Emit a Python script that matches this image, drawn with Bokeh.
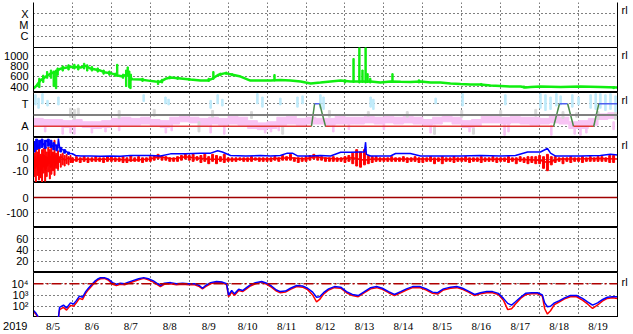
from bokeh.plotting import figure
from bokeh.layouts import column
from bokeh.models import Range1d, FixedTicker, Grid, LinearAxis, LogAxis, Span
from bokeh.embed import file_html
from bokeh.resources import INLINE

FONT = "Arial"
FS = "11px"
NAN = float("nan")

# ---------------- data ----------------
day_labels = ["8/5", "8/6", "8/7", "8/8", "8/9", "8/10", "8/11", "8/12",
              "8/13", "8/14", "8/15", "8/16", "8/17", "8/18", "8/19"]
day_mid = [0.5, 1.5, 2.5, 3.5, 4.5, 5.5, 6.5, 7.5, 8.5, 9.5, 10.5, 11.5, 12.5, 13.5, 14.5]
day_edges = [1, 2, 3, 4, 5, 6, 7, 8, 9, 10, 11, 12, 13, 14]
year_label = "2019"
rows_top = {3: "X", 2: "M", 1: "C"}
rows_state = {3: "T", 1: "A"}
side_mark = "rl"

# panel 2 (green), time in days since 8/5 00:00
green_t = [0.00, 0.08, 0.18, 0.26, 0.33, 0.44, 0.57, 0.69, 0.82, 1.00, 1.21, 1.34, 1.46, 1.59, 1.72,
           1.85, 1.98, 2.16, 2.29, 2.41, 2.54, 2.75, 2.95, 3.13, 3.26, 3.39, 3.52, 3.78, 4.03, 4.29,
           4.47, 4.60, 4.75, 4.93, 5.11, 5.32, 5.57, 5.83, 6.09, 6.34, 6.60, 6.86, 6.99, 7.12, 7.37,
           7.63, 7.89, 8.14, 8.40, 8.66, 8.91, 9.17, 9.43, 9.68, 9.94, 10.20, 10.45, 10.71, 10.97,
           11.23, 11.48, 11.74, 12.00, 12.25, 12.51, 12.64, 12.77, 13.02, 13.54, 14.05, 14.56, 15.00]
green_v = [360, 420, 520, 560, 600, 650, 690, 745, 765, 785, 770, 800, 750, 730, 710,
           670, 660, 615, 595, 640, 540, 535, 515, 497, 495, 550, 575, 555, 535, 515,
           515, 555, 630, 660, 630, 594, 516, 516, 516, 526, 516, 497, 477, 458, 477,
           497, 516, 497, 497, 497, 477, 497, 491, 487, 497, 477, 477, 458, 448,
           439, 439, 419, 410, 400, 400, 381, 390, 400, 390, 400, 390, 381]
green_noise_t = [0.15, 0.25, 0.35, 0.45, 0.52, 0.58, 0.62, 0.75, 0.90, 1.05, 1.15, 1.30, 1.38, 1.50,
                 1.65, 1.80, 1.95, 2.10, 2.15, 2.30, 2.38, 2.42, 2.46, 2.49, 2.50, 2.80, 3.20, 3.30,
                 3.50, 3.70, 4.00, 4.50, 4.62, 4.80, 4.95, 5.10, 6.19, 8.00, 8.22, 8.37, 8.45,
                 8.53, 8.58, 8.65, 9.22, 9.90, 11.50, 12.60, 14.90]
green_noise_lo = [380, 480, 560, 560, 400, 360, 620, 700, 720, 740, 720, 740, 700, 700,
                  680, 640, 620, 600, 600, 560, 400, 600, 380, 360, 520, 500, 440, 470,
                  550, 540, 520, 500, 540, 610, 640, 610, 510, 470, 480, 470, 480,
                  470, 480, 470, 490, 470, 420, 370, 360]
green_noise_hi = [560, 620, 690, 720, 700, 720, 760, 800, 820, 830, 820, 850, 820, 790,
                  760, 720, 700, 660, 830, 640, 720, 780, 700, 560, 640, 560, 520, 540,
                  600, 580, 560, 560, 690, 660, 680, 650, 632, 530, 942, 1174, 720,
                  1174, 650, 560, 650, 530, 460, 410, 400]

# panel 3 (T / A states)
state_t = [0, 7.14, 7.22, 7.35, 7.50, 13.36, 13.51, 13.72, 13.87, 14.39, 14.52, 15]
state_v = [1, 1, 3, 3, 1, 1, 3, 3, 1, 1, 3, 3]
gray_level = 2
pink_t = [0.125, 0.375, 0.625, 0.875, 1.125, 1.375, 1.625, 1.875, 2.125, 2.375, 2.625, 2.875,
          3.125, 3.375, 3.625, 3.875, 4.125, 4.375, 4.625, 4.875, 5.125, 5.375, 5.625, 5.875,
          6.125, 6.375, 6.625, 6.875, 7.125, 7.375, 7.625, 7.875, 8.125, 8.375, 8.625, 8.875,
          9.125, 9.375, 9.625, 9.875, 10.125, 10.375, 10.625, 10.875, 11.125, 11.375, 11.625,
          11.875, 12.125, 12.375, 12.625, 12.875, 13.125, 13.375, 13.625, 13.875, 14.125,
          14.375, 14.625, 14.875]
pink_lo = [1.1, 1.0, 1.0, 0.9, 1.0, 0.9, 0.8, 0.9, 1.1, 1.1, 1.1, 1.2,
           1.0, 0.9, 1.2, 1.4, 1.3, 1.1, 1.2, 1.1, 1.2, 1.1, 0.8, 0.7,
           0.8, 1.1, 1.2, 1.1, 1.2, 1.2, 1.1, 1.2, 1.2, 1.2, 1.3, 1.2,
           1.3, 1.2, 1.3, 1.2, 1.1, 1.2, 1.4, 1.2, 0.9, 1.0, 1.3,
           1.3, 1.2, 1.3, 1.2, 1.1, 1.2, 1.3, 1.2, 0.8, 0.8,
           1.1, 1.6, 1.7]
pink_hi = [1.7, 1.6, 1.6, 1.5, 1.6, 1.4, 1.4, 1.5, 1.7, 1.8, 1.7, 1.8,
           1.6, 1.5, 1.8, 1.9, 1.8, 1.7, 1.8, 1.7, 1.9, 1.8, 1.5, 1.3,
           1.4, 1.8, 1.9, 1.7, 1.8, 1.7, 1.7, 1.9, 1.8, 1.8, 1.9, 1.8,
           1.9, 1.8, 1.9, 1.8, 1.6, 1.8, 2.0, 1.8, 1.5, 1.6, 1.9,
           1.9, 1.8, 1.9, 1.8, 1.8, 1.7, 1.9, 1.8, 1.4, 1.5,
           1.7, 2.1, 2.2]
pink_streak_t = [0.30, 0.75, 0.95, 1.05, 1.50, 1.85, 2.20, 3.40, 3.55, 4.55, 4.90, 5.95, 6.10, 6.30,
                 7.70, 8.10, 9.00, 10.20, 10.30, 11.20, 11.30, 12.10, 12.20, 13.30, 13.90, 14.05,
                 14.20, 14.90]
pink_streak_lo = [0.5, 0.3, 0.4, 0.3, 0.4, 0.5, 0.6, 0.4, 0.6, 0.4, 0.3, 0.4, 0.5, 0.6,
                  0.5, 0.7, 0.7, 0.4, 0.3, 0.5, 0.4, 0.2, 0.5, 0.2, 0.3, 0.2, 0.4, 0.7]
pink_streak_hi = [1.4, 1.2, 1.3, 1.1, 1.2, 1.3, 1.2, 1.2, 1.3, 1.2, 1.1, 1.0, 1.1, 1.2,
                  1.2, 1.3, 1.3, 1.2, 1.1, 1.0, 1.1, 1.2, 1.3, 1.1, 1.0, 0.9, 1.2, 1.4]
gray_streak_t = [0.95, 1.05, 1.15, 2.20, 3.10, 4.25, 4.60, 5.60, 6.40, 7.60, 8.60, 9.60, 10.30,
                 11.00, 11.30, 12.00, 12.90, 13.60, 13.95, 14.50, 14.95]
gray_streak_lo = [1.8, 1.6, 2.0, 1.7, 1.9, 0.5, 1.8, 1.7, 0.3, 1.8, 1.9, 1.8, 0.3,
                  1.8, 0.3, 1.9, 1.9, 1.7, 1.8, 1.6, 1.6]
gray_streak_hi = [2.6, 2.5, 2.6, 2.4, 2.5, 1.4, 2.4, 2.3, 1.0, 2.4, 2.3, 2.3, 0.9,
                  2.4, 0.8, 2.4, 2.5, 2.3, 2.2, 2.3, 2.2]
cyan_t = [0.05, 0.13, 0.23, 0.36, 0.64, 2.83, 3.39, 3.47, 4.55, 4.73, 4.85, 5.75, 5.88, 6.34,
          6.78, 6.91, 7.37, 7.45, 8.66, 8.73, 10.33, 11.02, 12.12, 13.02, 13.15, 13.28, 13.43,
          13.54, 13.84, 14.00, 14.31, 14.44, 14.56, 14.69, 14.82, 14.95]
cyan_lo = [2.9, 2.6, 3.0, 2.8, 2.9, 3.2, 3.0, 2.9, 2.6, 3.0, 2.8, 3.0, 2.7, 2.9,
           2.7, 3.0, 2.6, 2.5, 2.7, 2.5, 3.0, 2.8, 2.9, 2.6, 2.4, 2.5, 2.8,
           2.9, 2.7, 2.9, 2.6, 2.5, 2.6, 2.4, 2.5, 2.3]
cyan_hi = [3.8, 3.5, 3.9, 3.3, 3.6, 3.8, 3.6, 3.4, 3.3, 3.8, 3.4, 3.9, 3.6, 3.5,
           3.6, 3.7, 3.8, 3.6, 3.6, 3.4, 3.5, 3.9, 3.8, 3.9, 3.8, 3.6, 3.9,
           3.7, 3.8, 3.6, 3.8, 3.9, 3.9, 3.8, 3.9, 3.7]

# panel 4 (red / blue)
blue4_t = [0.00, 0.05, 0.13, 0.18, 0.26, 0.33, 0.41, 0.49, 0.57, 0.62, 0.64, 0.67, 0.74, 0.82,
           0.90, 1.00, 1.08, 1.21, 1.46, 1.72, 1.98, 2.23, 2.49, 3.01, 3.26, 3.52, 3.90, 4.29,
           4.55, 4.73, 4.85, 5.06, 5.45, 5.83, 6.09, 6.34, 6.52, 6.65, 6.78, 7.12, 7.37, 7.63,
           7.89, 8.14, 8.40, 8.50, 8.53, 8.55, 8.66, 9.17, 9.30, 9.68, 9.94, 10.45, 10.97,
           11.48, 12.00, 12.38, 12.69, 13.02, 13.20, 13.28, 13.41, 14.05, 14.56, 14.82, 15.00]
blue4_v = [8, 14, 10, 16, 12, 16, 13, 11, 12, 9, 17.5, 10, 8, 7,
           5, 4.5, 3, 2.6, 2.6, 2.4, 2.6, 2.4, 3, 3, 2.5, 4.4, 4.4, 5,
           5, 7, 6, 3, 2.5, 3, 2.5, 3, 5, 5, 2.6, 2.6, 3, 2.6,
           5.8, 5.8, 6, 6, 14.4, 4, 2.6, 2.6, 4.7, 4.7, 2.5, 2.5, 2.5,
           3, 2.5, 3, 6, 6, 9, 5, 2.5, 2.5, 3, 4, 3.5]
blue4_noise_t = [0.02, 0.08, 0.15, 0.22, 0.30, 0.38, 0.45, 0.52, 0.60, 0.70, 0.80, 0.90]
blue4_noise_lo = [6, 8, 9, 10, 9, 11, 10, 8, 7, 6, 5, 4]
blue4_noise_hi = [15, 17, 16, 17, 16, 17, 16, 14, 12, 10, 8, 6]
red4_t = [0.00, 0.05, 0.10, 0.15, 0.20, 0.25, 0.30, 0.35, 0.40, 0.45, 0.50, 0.55, 0.60, 0.65,
          0.70, 0.80, 0.90, 1.00, 1.20, 1.50, 2.00, 2.50, 3.00, 3.20, 3.40, 3.60, 3.90, 4.10,
          4.50, 5.00, 5.50, 6.00, 6.60, 7.00, 7.20, 7.40, 7.80, 8.20, 8.50, 8.70, 9.00, 9.50,
          10.00, 10.50, 11.00, 11.50, 12.00, 12.50, 13.00, 13.20, 13.50, 14.00, 14.50, 15.00]
red4_v = [-2, -8, 2, -12, -4, 4, -10, -3, 6, -6, 2, -4, 3, -2,
          2, -1, 1, -1, 0, -0.5, 0, -1, 0, 2, 1, 0, 2, 1,
          0, -0.5, 0, 0, 1, 0, 2, 1, 0, 1, -1, 0, 0, 0,
          0, -0.5, 0, -0.5, 0, -0.5, -1, -3, 0, 0, 0.5, 0]
# early, dense spikes (first day)
red4_early_t = [0.02, 0.04, 0.06, 0.08, 0.10, 0.12, 0.14, 0.16, 0.18, 0.20, 0.22, 0.24, 0.26, 0.28,
                0.30, 0.32, 0.34, 0.36, 0.38, 0.40, 0.42, 0.44, 0.46, 0.48, 0.50, 0.52, 0.54, 0.56,
                0.58, 0.60, 0.63, 0.66, 0.70, 0.75, 0.80, 0.85, 0.90, 0.95]
red4_early_lo = [-15, -8, -20, -6, -14, -10, -18, -5, -16, -9, -20, -7, -12, -4,
                 -19, -8, -15, -6, -11, -4, -17, -7, -13, -5, -10, -3, -14, -6,
                 -8, -4, -9, -3, -7, -5, -6, -4, -5, -3]
red4_early_hi = [5, 2, 8, 0, 6, 3, 10, 1, 4, 2, 8, 0, 9, 3,
                 12, 2, 6, 1, 10, 3, 8, 2, 12, 4, 6, 2, 16, 3,
                 5, 2, 7, 2, 4, 5, 3, 4, 2, 3]
# later noise envelope, one value per 0.1 day starting at day 1.0
red4_late_lo = [-3, -2, -3, -2, -3, -2, -2, -2, -3, -2,
                -2, -2, -2, -3, -3, -2, -2, -2, -3, -2,
                -2, -1, 0, -1, -1, -2, -2, -2, -1, 0,
                -1, -2, -1, -3, -2, -4, -2, -4, -2, -3,
                -2, -2, -2, -1, -2, -2, -2, -1, -2, -2,
                -2, -2, -1, -2, -1, -1, -1, -2, -3, -2,
                -2, -1, 0, -1, -1, -2, -2, -2, -2, -2,
                -3, -2, -4, -6, -7, -5, -4, -3, -2, -2,
                -2, -2, -2, -2, -2, -2, -3, -2, -2, -3,
                -3, -2, -2, -4, -2, -4, -2, -2, -3, -2,
                -2, -2, -3, -2, -2, -3, -2, -2, -2, -3,
                -2, -2, -3, -2, -4, -2, -3, -4, -3, -4,
                -4, -8, -10, -5, -3, -2, -4, -2, -3, -2,
                -2, -3, -2, -2, -2, -2, -2, -2, -3, -3]
red4_late_hi = [1, 2, 1, 2, 1, 1, 2, 1, 1, 2,
                2, 1, 1, 2, 1, 3, 1, 2, 1, 1,
                2, 3, 4, 3, 2, 1, 1, 2, 3, 4,
                3, 4, 2, 3, 4, 2, 4, 3, 2, 4,
                1, 1, 1, 1, 1, 1, 2, 1, 1, 1,
                1, 1, 2, 1, 3, 2, 4, 1, 1, 1,
                2, 3, 4, 3, 2, 1, 1, 2, 1, 1,
                2, 3, 5, 8, 6, 8, 3, 2, 2, 1,
                1, 1, 2, 1, 1, 2, 1, 1, 2, 1,
                1, 1, 2, 1, 1, 2, 1, 1, 2, 1,
                1, 2, 1, 1, 1, 2, 1, 1, 2, 1,
                1, 1, 2, 1, 1, 2, 1, 2, 2, 2,
                3, 2, 4, 2, 2, 1, 1, 1, 2, 1,
                1, 2, 1, 2, 1, 2, 2, 1, 3, 3]
red4_late_t = [1.0 + 0.1 * i for i in range(len(red4_late_lo))]

# panel 5 reference level
p5_level = 0

# panel 7 (log)
p7_t = [0.00, 0.05, 0.12, NAN, 0.64, 0.67, 0.77, 0.85, 0.95, 1.03, 1.10, 1.18, 1.26, 1.34, 1.41,
        1.49, 1.57, 1.64, 1.72, 1.82, 1.93, 2.03, 2.13, 2.23, 2.34, 2.44, 2.57, 2.70, 2.83,
        2.95, 3.08, 3.19, 3.26, 3.36, 3.52, 3.67, 3.83, 3.98, 4.14, 4.26, 4.34, 4.42, 4.55,
        4.70, 4.85, 4.96, 5.01, 5.09, 5.16, 5.27, 5.37, 5.47, 5.57, 5.70, 5.86, 5.99, 6.11,
        6.24, 6.34, 6.47, 6.60, 6.76, 6.91, 7.04, 7.17, 7.27, 7.35, 7.45, 7.58, 7.73, 7.89,
        8.04, 8.19, 8.34, 8.50, 8.66, 8.81, 8.96, 9.12, 9.27, 9.43, 9.58, 9.74, 9.92, 10.09,
        10.25, 10.38, 10.53, 10.71, 10.87, 11.02, 11.17, 11.33, 11.48, 11.64, 11.79, 11.94,
        12.07, 12.18, 12.28, 12.38, 12.51, 12.64, 12.79, 12.95, 13.07, 13.13, 13.20, 13.28,
        13.38, 13.51, 13.64, 13.79, 13.95, 14.10, 14.23, 14.36, 14.49, 14.62, 14.74, 14.87, 15.00]
p7_blue = [42, 28, 12, NAN, 10, 80, 126, 71, 200, 160, 316, 800, 630, 2000, 4000,
           8000, 16000, 25000, 35000, 35000, 25000, 12600, 9000, 11200, 10000, 14000, 20000, 28000, 35000,
           28000, 18000, 10000, 7000, 11200, 12600, 10000, 11200, 10000, 10000, 7000, 4000, 7000, 12600,
           16000, 14000, 10000, 1000, 2500, 1260, 3200, 2500, 4500, 8000, 12600, 16000, 11200, 6300,
           2800, 2000, 2240, 4000, 7000, 6300, 4000, 1800, 630, 700, 1600, 3500, 5600, 5000,
           2000, 1120, 900, 2000, 4500, 5600, 4000, 2000, 1120, 2000, 3500, 5600, 5600, 3500,
           1800, 1600, 3500, 5000, 5600, 4000, 2240, 1120, 1600, 2000, 2000, 1400,
           500, 180, 126, 250, 630, 1400, 1600, 1600, 1000, 200, 90, 100,
           200, 316, 560, 900, 900, 500, 250, 126, 200, 400, 630, 700, 700]
p7_red = [35, 22, 10, NAN, 10, 50, 80, 45, 120, 100, 200, 500, 400, 1400, 3000,
          6000, 12000, 20000, 28000, 30000, 20000, 9000, 7000, 9000, 8000, 11200, 16000, 22000, 30000,
          22000, 14000, 8000, 5600, 9000, 10000, 8000, 9000, 8000, 8000, 5600, 3500, 5600, 10000,
          14000, 12000, 8000, 700, 1800, 900, 2500, 2000, 3500, 6300, 10000, 14000, 9000, 5000,
          2200, 1600, 1800, 3200, 5600, 5000, 3000, 1000, 250, 400, 1200, 2800, 4500, 4000,
          1600, 900, 700, 1600, 3500, 4500, 3200, 1600, 900, 1600, 2800, 4500, 4500, 2800,
          1400, 1200, 2800, 4000, 4500, 3200, 1800, 900, 1300, 1600, 1600, 1100,
          350, 50, 60, 160, 500, 1100, 1300, 1300, 800, 60, 20, 40,
          140, 250, 450, 700, 700, 350, 160, 63, 130, 300, 500, 560, 500]
p7_level = 10000

# ---------------- layout ----------------
W = 633
LEFT, RIGHT = 33, 16
xr = Range1d(0, 15)


def style_axis(ax):
    ax.axis_line_color = "black"
    ax.axis_line_width = 1
    ax.major_tick_line_color = None
    ax.minor_tick_line_color = None
    ax.major_tick_out = 0
    ax.major_tick_in = 0
    ax.minor_tick_out = 0
    ax.minor_tick_in = 0
    ax.major_label_text_font = FONT
    ax.major_label_text_font_size = FS
    ax.major_label_text_color = "black"


def make_fig(yr, height, ticks, labels=None, y_type="linear", top=0, mark_at=None, outline=True):
    p = figure(width=W, height=height, x_range=xr, y_range=yr, y_axis_type=y_type,
               x_axis_location=None, y_axis_location="left",
               toolbar_location=None, output_backend="svg",
               min_border_left=LEFT, min_border_right=RIGHT,
               min_border_top=top, min_border_bottom=0,
               background_fill_color="white", border_fill_color="white")
    p.grid.visible = False
    p.outline_line_color = "black" if outline else None
    p.outline_line_width = 1
    ya = p.yaxis[0]
    ya.ticker = FixedTicker(ticks=ticks)
    if labels:
        ya.major_label_overrides = labels
    style_axis(ya)
    ya.major_label_standoff = 5
    p.add_layout(Grid(dimension=1, ticker=FixedTicker(ticks=ticks), grid_line_color="black",
                      grid_line_dash="1 3", grid_line_width=1))
    p.add_layout(Grid(dimension=0, ticker=FixedTicker(ticks=day_edges), grid_line_color="black",
                      grid_line_dash="1 3", grid_line_width=1))
    AxisCls = LogAxis if y_type == "log" else LinearAxis
    ra = AxisCls(ticker=FixedTicker(ticks=[mark_at] if mark_at is not None else []))
    if mark_at is not None:
        ra.major_label_overrides = {mark_at: side_mark}
    style_axis(ra)
    ra.major_label_standoff = 4
    p.add_layout(ra, "right")
    return p


# panel 1
p1 = make_fig(Range1d(0, 4), 47, [1, 2, 3], rows_top, top=2, mark_at=3.3, outline=False)
p1.add_layout(Span(location=0, dimension="width", line_color="black", line_width=1))

# panel 2
p2 = make_fig(Range1d(285, 1156), 45, [400, 600, 800, 1000], mark_at=1005)
p2.vbar(x=green_noise_t, bottom=green_noise_lo, top=green_noise_hi, width=0.035,
        color="#10ee10")
p2.line(green_t, green_v, line_color="#10ee10", line_width=2.5)

# panel 3
p3 = make_fig(Range1d(0, 4), 45, [1, 3], rows_state, mark_at=3.3)
p3.vbar(x=pink_t, bottom=pink_lo, top=pink_hi, width=0.25, color="#f8c4f4")
p3.vbar(x=pink_streak_t, bottom=pink_streak_lo, top=pink_streak_hi, width=0.04, color="#f8c4f4")
p3.vbar(x=gray_streak_t, bottom=gray_streak_lo, top=gray_streak_hi, width=0.05, color="#d8d8d8")
p3.vbar(x=cyan_t, bottom=cyan_lo, top=cyan_hi, width=0.04, color="#bfeafa")
p3.add_layout(Span(location=gray_level, dimension="width", line_color="#808080", line_width=2))
seg_col = []
for a, b in zip(state_v[:-1], state_v[1:]):
    if a == b == 1:
        seg_col.append("#e03838")
    elif a == b == 3:
        seg_col.append("#5060f0")
    else:
        seg_col.append("#4a8a4a")
p3.segment(x0=state_t[:-1], y0=state_v[:-1], x1=state_t[1:], y1=state_v[1:],
           line_color=seg_col, line_width=1.5)

# panel 4
p4 = make_fig(Range1d(-20.1, 18.4), 45, [-10, 0, 10], {-10: "-10", 0: "0", 10: "10"}, mark_at=11.6)
p4.vbar(x=red4_early_t, bottom=red4_early_lo, top=red4_early_hi, width=0.025, color="#ff0000")
p4.vbar(x=red4_late_t, bottom=red4_late_lo, top=red4_late_hi, width=0.05, color="#ff0000")
p4.line(red4_t, red4_v, line_color="#ff0000", line_width=1.5)
p4.vbar(x=blue4_noise_t, bottom=blue4_noise_lo, top=blue4_noise_hi, width=0.05, color="#0000ff")
p4.line(blue4_t, blue4_v, line_color="#0000ff", line_width=1.5)

# panel 5
p5 = make_fig(Range1d(-200, 100), 45, [-100, 0], {-100: "-100", 0: "0"})
p5.add_layout(Span(location=p5_level, dimension="width", line_color="#a00000", line_width=1.5))

# panel 6
p6 = make_fig(Range1d(0, 80), 45, [20, 40, 60])

# panel 7
p7 = make_fig(Range1d(10, 100000), 45, [100, 1000, 10000],
              {100: "10²", 1000: "10³", 10000: "10⁴"}, y_type="log", mark_at=15800)
p7.add_layout(Span(location=p7_level, dimension="width", line_color="#b00000",
                   line_width=1.5, line_dash="10 3 2 3"))
p7.line(p7_t, p7_red, line_color="#ff0000", line_width=1.5)
p7.line(p7_t, p7_blue, line_color="#0000ff", line_width=1.5)

# date strip: day labels inside, year as the strip's left tick label
p8 = figure(width=W, height=17, x_range=xr, y_range=Range1d(0, 1),
            x_axis_location=None, y_axis_location="left", toolbar_location=None,
            output_backend="svg", min_border_left=LEFT, min_border_right=RIGHT,
            min_border_top=0, min_border_bottom=0, outline_line_color=None,
            background_fill_color="white", border_fill_color="white")
p8.grid.visible = False
ya8 = p8.yaxis[0]
ya8.ticker = FixedTicker(ticks=[0.5])
ya8.major_label_overrides = {0.5: year_label}
style_axis(ya8)
ya8.axis_line_color = None
ya8.major_label_standoff = 6
p8.text(x=day_mid, y=[0.5] * len(day_mid), text=day_labels,
        text_font=FONT, text_font_size=FS, text_align="center",
        text_baseline="middle", text_color="black")

layout = column(p1, p2, p3, p4, p5, p6, p7, p8, spacing=0)
open("out.html", "w").write(file_html(layout, INLINE))
